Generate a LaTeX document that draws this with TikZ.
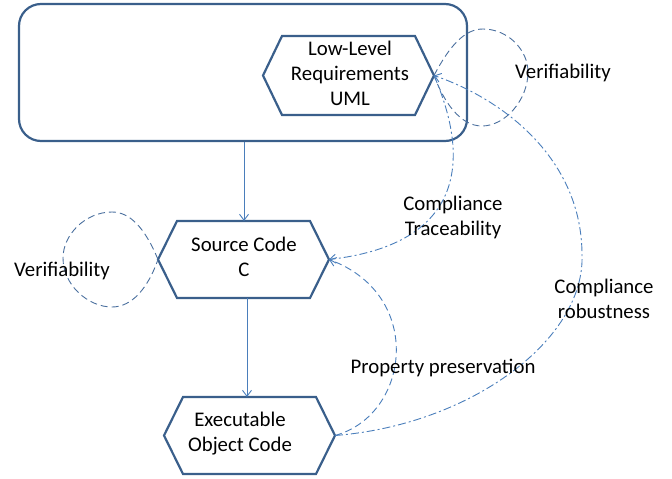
\documentclass[tikz,border=0pt]{standalone}
\usepackage{fontspec}
\setmainfont{Carlito}
\usetikzlibrary{arrows.meta}
\definecolor{hexb}{HTML}{3A5F8B}
\definecolor{connc}{HTML}{4A7EBB}
\definecolor{loopc}{HTML}{4A6F9E}
\begin{document}
\begin{tikzpicture}[x=1pt,y=-1pt,
  font=\fontsize{20.8}{25}\selectfont,
  hexline/.style={draw=hexb, line width=2.2pt, line join=miter},
  txt/.style={inner sep=0pt, align=center, text=black},
  lbl/.style={inner sep=0pt, align=center, text=black},
  arr/.style={-{Straight Barb[length=6pt,width=9pt,line width=0.9pt]}},
  conn/.style={draw=connc, line width=0.9pt},
  ddot/.style={conn, dash pattern=on 8pt off 3pt on 2pt off 3pt},
  dsh/.style={conn, dash pattern=on 7pt off 4pt},
  loopst/.style={draw=loopc, line width=0.9pt, dash pattern=on 7pt off 4pt}]
\useasboundingbox (0,0) rectangle (672,479);

% outer rounded rectangle
\node[draw=hexb, line width=2.2pt, rounded corners=22pt, minimum width=448pt, minimum height=137pt, inner sep=0pt] (sys) at (243,72.5) {};

% hexagons
\draw[hexline] (263,75.5) -- (282,36) -- (415,36) -- (434,75.5) -- (415,115) -- (282,115) -- cycle;
\draw[hexline] (158,259.5) -- (177,221) -- (310,221) -- (329,259.5) -- (310,298) -- (177,298) -- cycle;
\draw[hexline] (164,435.5) -- (183,397) -- (316,397) -- (335,435.5) -- (316,474) -- (183,474) -- cycle;

\node[txt] (LLR) at (350,73) {Low-Level\\Requirements\\UML};
\node[txt] (SC) at (244,257) {Source Code\\C};
\node[txt] (EOC) at (240,434) {Executable\\Object Code};

\coordinate (LLRe) at (434,75.5);
\coordinate (SCe) at (329,259.5);
\coordinate (SCw) at (158,259.5);
\coordinate (SCn) at (244,221);
\coordinate (SCs) at (247,298);
\coordinate (EOCn) at (247,397);
\coordinate (EOCe) at (335,435.5);

% straight arrows
\draw[conn, arr] (sys.south -| SCn) -- (SCn);
\draw[conn, arr] (SCs) -- (EOCn);

% verifiability loops
\draw[loopst] (LLRe) .. controls (450,45) and (465,29) .. (483,29)
  .. controls (508,29) and (528,50) .. (528,72)
  .. controls (528,100) and (505,126) .. (482,126)
  .. controls (460,126) and (444,102) .. (LLRe);
\draw[loopst] (SCw) .. controls (145,228) and (130,212) .. (112,212)
  .. controls (85,212) and (63,235) .. (63,258)
  .. controls (63,285) and (88,307) .. (112,307)
  .. controls (132,307) and (148,288) .. (SCw);

% compliance / preservation connectors
\draw[ddot, arr] (LLRe) .. controls (475,170) and (455,245) .. (SCe);
\draw[ddot, arr] (EOCe) .. controls (470,425) and (585,340) .. (582,255)
  .. controls (582,160) and (505,100) .. (LLRe);
\draw[dsh, arr] (EOCe) .. controls (410,415) and (425,295) .. (SCe);

% labels
\node[lbl] (v1) at (563,73) {Verifiability};
\node[lbl] (v2) at (62,271) {Verifiability};
\node[lbl] (ct) at (453,217) {Compliance\\Traceability};
\node[lbl] (cr) at (604,299) {Compliance\\robustness};
\node[lbl] (pp) at (443,368) {Property preservation};
\end{tikzpicture}
\end{document}
